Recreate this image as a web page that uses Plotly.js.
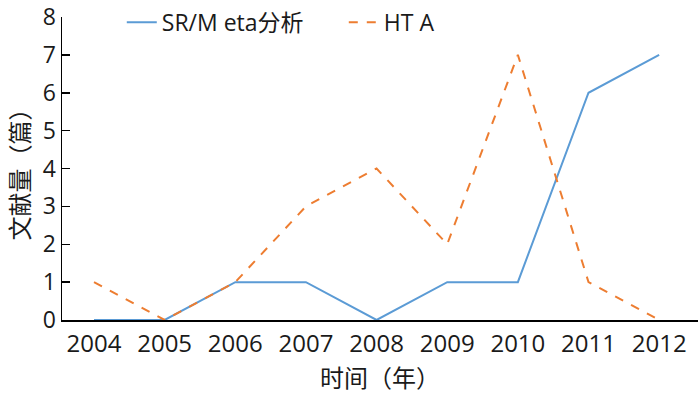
<!DOCTYPE html>
<html><head><meta charset="utf-8">
<script src="https://cdn.plot.ly/plotly-3.0.1.min.js"></script>
<style>html,body{margin:0;padding:0;background:#fff}#chart{width:700px;height:394px}</style>
</head><body><div id="chart"></div>
<script>
const years = [2004, 2005, 2006, 2007, 2008, 2009, 2010, 2011, 2012];
const srMeta = [0, 0, 1, 1, 0, 1, 1, 6, 7];
const hta = [1, 0, 1, 3, 4, 2, 7, 1, 0];
const yTicks = [0, 1, 2, 3, 4, 5, 6, 7, 8];
const FONT = "Open Sans, Noto Sans CJK SC, sans-serif";

const traces = [
  {x: years, y: srMeta, name: "SR/M eta分析", mode: "lines",
   line: {color: "#5b9bd5", width: 2}},
  {x: years, y: hta, name: "HT A", mode: "lines",
   line: {color: "#ed7d31", width: 2, dash: "dash"}}
];
const layout = {
  width: 700, height: 394,
  margin: {l: 62, r: 2, t: 16, b: 74},
  paper_bgcolor: "#fff", plot_bgcolor: "#fff",
  font: {family: FONT, size: 24, color: "#1a1a1a"},
  showlegend: true,
  legend: {orientation: "h", x: 0.094, xanchor: "left", y: 1.05, yanchor: "top",
           font: {family: FONT, size: 23, color: "#1a1a1a"}, entrywidth: 177, entrywidthmode: "pixels",
           bgcolor: "rgba(0,0,0,0)", borderwidth: 0},
  xaxis: {range: [2003.547, 2012.55], tickvals: years, ticktext: years.map(String),
          showgrid: false, zeroline: false, showline: true, linecolor: "#000", linewidth: 1.5,
          ticks: "", tickfont: {size: 24}, ticklabelstandoff: 2, ticklabeloverflow: "allow",
          title: {text: "时间（年）", font: {size: 24}, standoff: 12}},
  yaxis: {range: [0, 8], tickvals: yTicks, showgrid: false, zeroline: false,
          showline: true, linecolor: "#000", linewidth: 1.5, ticklabeloverflow: "allow",
          ticks: "inside", ticklen: 8, tickcolor: "#000", tickwidth: 1.5, tickfont: {size: 23},
          title: {text: "文献量（篇）", font: {size: 24}, standoff: 6}}
};
Plotly.newPlot("chart", traces, layout, {displayModeBar: false, staticPlot: true});
</script></body></html>
